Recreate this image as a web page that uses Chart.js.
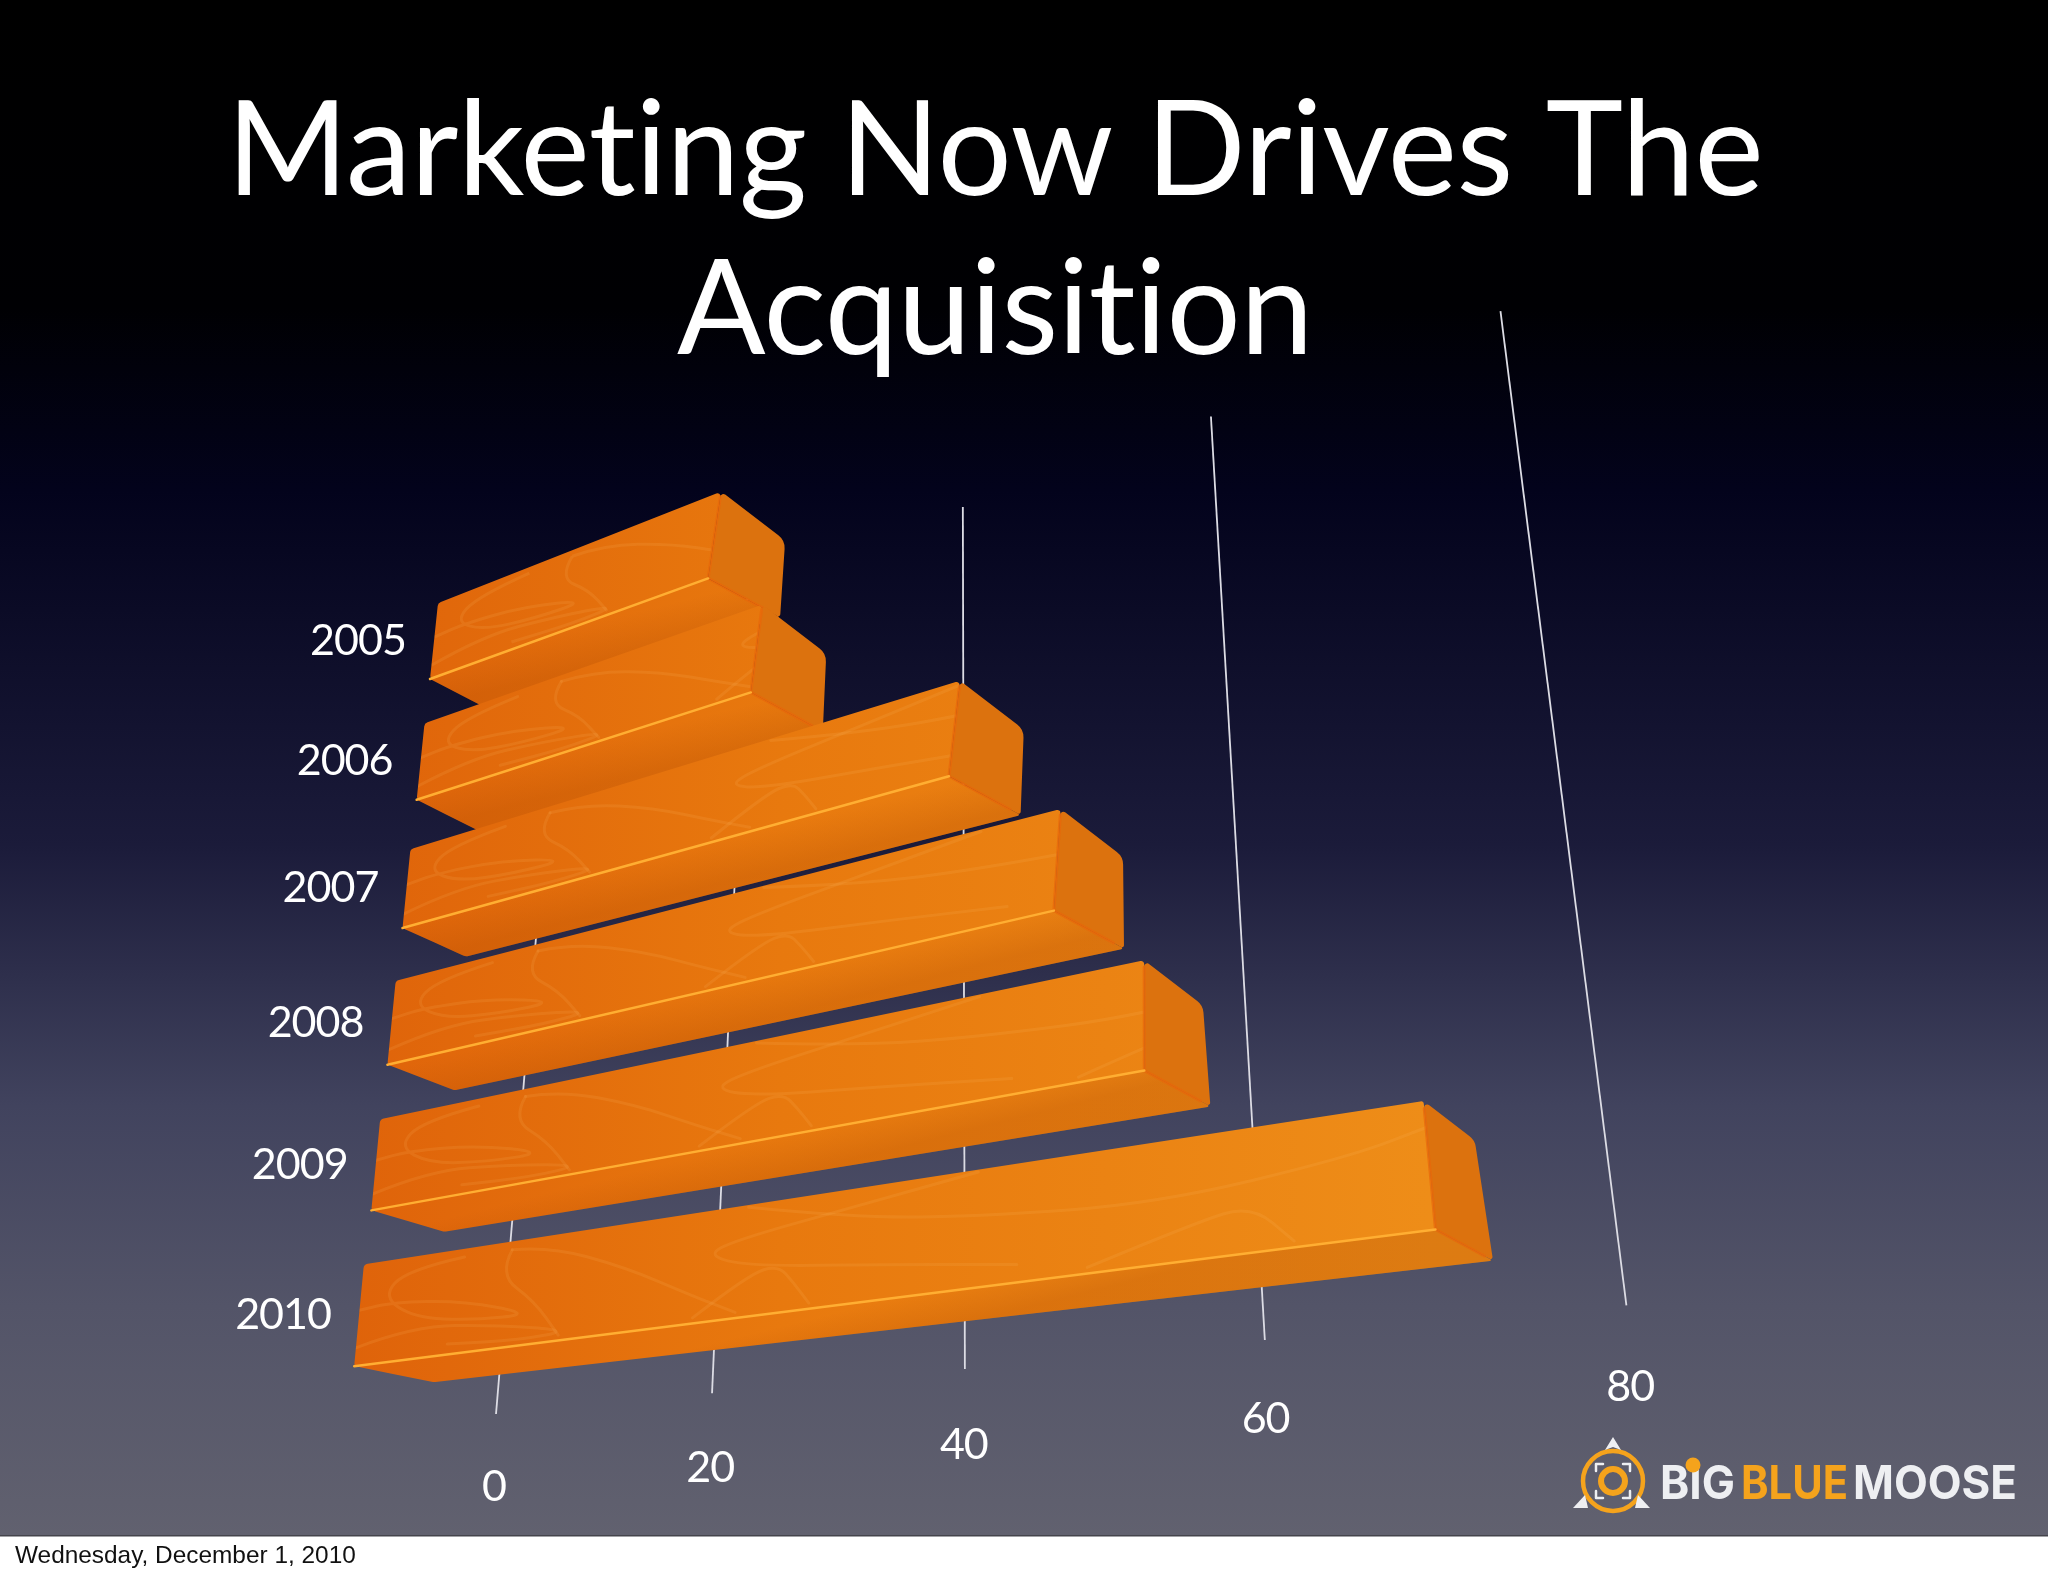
<!DOCTYPE html>
<html>
<head>
<meta charset="utf-8">
<title>Marketing Now Drives The Acquisition</title>
<script src="https://cdn.jsdelivr.net/npm/chart.js@4"></script>
<style>
	html, body { margin: 0; padding: 0; background: #fff; }
	canvas { display: block; }
</style>
</head>
<body>
<canvas id="chart" width="2048" height="1576"></canvas>
<script>
// Data
const years = ['2005', '2006', '2007', '2008', '2009', '2010'];
const acquisitions = [25.9, 29.8, 44.5, 51, 55.8, 69.8];
const axisMax = 80;
const axisStep = 20;
const titleLines = ['Marketing Now Drives The', 'Acquisition'];
const footerDate = 'Wednesday, December 1, 2010';

const slideBottom = 1536;

// Perspective planes: value along the bar, row (or wall height) across it
function plane(p) {
	return function(v, r) {
		var w = 1 + p.c * v + p.d * r;
		return [(p.x0 + p.ax * v + p.ex * r) / w, (p.y0 + p.ay * v + p.ey * r) / w];
	};
}
const topEdge = plane({x0: 438, y0: 603, ax: 8.3, ay: -6.1, ex: -22.9, ey: 104.2, c: -0.00365, d: -0.0222});
const midEdge = plane({x0: 430, y0: 679, ax: 8.33, ay: -5.85, ex: -25.6, ey: 97.2, c: -0.0034, d: -0.02945});
const wall = plane({x0: 496, y0: 1414, ax: 8.21, ay: -6.11, ex: 155, ey: -654, c: -0.00364, d: 0.1628});

// Faint scribbles on the bar faces, in value / face-height units
const scribbles = [
	[[9, .08], [4, .12], [2, .35], [5, .6], [10, .7], [15, .72], [9, .5], [3, .42], [0, .45]],
	[[0, .82], [5, .68], [12, .78], [18, .92], [14, .95], [8, .9]],
	[[13, .08], [16, .1], [22, .4], [27, .75], [30, .95]],
	[[13, .08], [12, .3], [15, .6], [17, .95]],
	[[46, .02], [38, .16], [30, .3], [28, .4], [31, .55], [40, .7], [48, .85]],
	[[27, .95], [31, .62], [33, .58], [34, .75], [35, .95]],
	[[31, .02], [38, .25], [46, .4], [56, .5], [66, .35], [70, .2]],
	[[52, .95], [58, .7], [61, .62], [63, .95]]
];

function poly(ctx, pts) {
	ctx.beginPath();
	pts.forEach(function(p, i) {
		if (i == 0) ctx.moveTo(p[0], p[1]);
		else ctx.lineTo(p[0], p[1]);
	});
	ctx.closePath();
}

// polygon with its own corner radius at each point
function roundPoly(ctx, pts, radii) {
	var n = pts.length;
	var last = pts[n - 1];
	ctx.beginPath();
	ctx.moveTo((last[0] + pts[0][0]) / 2, (last[1] + pts[0][1]) / 2);
	pts.forEach(function(p, i) {
		var next = pts[(i + 1) % n];
		ctx.arcTo(p[0], p[1], next[0], next[1], radii[i]);
	});
	ctx.closePath();
}

function faceGradient(ctx) {
	var g = ctx.createLinearGradient(350, 0, 1430, 0);
	g.addColorStop(0, '#df630a');
	g.addColorStop(0.4, '#e8790e');
	g.addColorStop(1, '#ee8d18');
	return g;
}

function drawBar(ctx, v0, v1, r) {
	var k = 1 - 0.2 * Math.pow(r / 5, 4);
	var a0 = topEdge(v0, r), a1 = topEdge(v1, r);
	var b0 = midEdge(v0, r), b1 = midEdge(v1, r);
	var d1 = [a1[0] + 64 * k, a1[1] + 49 * k];
	var c0 = [b0[0] + 60 + 0.8 * r * r, b0[1] + 31 - 0.6 * r * r];
	var c1 = [b1[0] + 72 * k, b1[1] + 39 * k];

	ctx.lineJoin = 'round';

	// lower face, darker toward its bottom edge
	roundPoly(ctx, [b0, b1, c1, c0], [1, 1, 1, 8]);
	ctx.fillStyle = faceGradient(ctx);
	ctx.fill();
	var mx = (b0[0] + b1[0]) / 2, my = (b0[1] + b1[1]) / 2;
	var shade = ctx.createLinearGradient(mx, my, mx + 10, my + 40);
	shade.addColorStop(0, 'rgba(170,70,0,0)');
	shade.addColorStop(1, 'rgba(170,70,0,0.25)');
	ctx.fillStyle = shade;
	ctx.fill();

	// end cap
	roundPoly(ctx, [a1, d1, c1, b1], [3, 16, 2, 1]);
	ctx.fillStyle = '#dc720e';
	ctx.fill();

	// big face
	roundPoly(ctx, [a0, a1, b1, b0], [5, 3, 1, 2]);
	ctx.fillStyle = faceGradient(ctx);
	ctx.fill();

	// scribbles
	ctx.save();
	poly(ctx, [a0, a1, b1, b0]);
	ctx.clip();
	ctx.strokeStyle = 'rgba(255,190,110,0.13)';
	ctx.lineWidth = 3;
	scribbles.forEach(function(line) {
		var pts = line.map(function(s) {
			var a = topEdge(s[0], r), b = midEdge(s[0], r);
			return [a[0] + (b[0] - a[0]) * s[1], a[1] + (b[1] - a[1]) * s[1]];
		});
		ctx.beginPath();
		ctx.moveTo(pts[0][0], pts[0][1]);
		for (var i = 1; i < pts.length - 1; i++) {
			ctx.quadraticCurveTo(pts[i][0], pts[i][1], (pts[i][0] + pts[i + 1][0]) / 2, (pts[i][1] + pts[i + 1][1]) / 2);
		}
		ctx.lineTo(pts[pts.length - 1][0], pts[pts.length - 1][1]);
		ctx.stroke();
	});
	ctx.restore();

	// edges
	ctx.lineCap = 'round';
	ctx.strokeStyle = 'rgba(232,102,10,0.7)';
	ctx.lineWidth = 3;
	ctx.beginPath();
	ctx.moveTo(a1[0] + (b1[0] - a1[0]) * 0.06, a1[1] + (b1[1] - a1[1]) * 0.06);
	ctx.lineTo(b1[0], b1[1]);
	ctx.lineTo(b1[0] + (c1[0] - b1[0]) * 0.85, b1[1] + (c1[1] - b1[1]) * 0.85);
	ctx.stroke();
	ctx.strokeStyle = '#ffae32';
	ctx.lineWidth = 2.5;
	ctx.beginPath();
	ctx.moveTo(b0[0], b0[1]);
	ctx.lineTo(b1[0], b1[1]);
	ctx.stroke();
}

function drawLogo(ctx) {
	var cx = 1613, cy = 1481;
	var orange = '#f5a31c', white = '#eeeff2';

	ctx.strokeStyle = orange;
	ctx.lineWidth = 4.5;
	ctx.beginPath();
	ctx.arc(cx, cy, 30, 0, Math.PI * 2);
	ctx.stroke();
	ctx.lineWidth = 6;
	ctx.beginPath();
	ctx.arc(cx, cy, 12, 0, Math.PI * 2);
	ctx.stroke();

	// corner brackets and the three tips
	ctx.strokeStyle = white;
	ctx.lineWidth = 2.5;
	[[-1, -1], [1, -1], [-1, 1], [1, 1]].forEach(function(c) {
		ctx.beginPath();
		ctx.moveTo(cx + c[0] * 17, cy + c[1] * 10);
		ctx.lineTo(cx + c[0] * 17, cy + c[1] * 17);
		ctx.lineTo(cx + c[0] * 10, cy + c[1] * 17);
		ctx.stroke();
	});
	ctx.fillStyle = white;
	poly(ctx, [[cx, 1437], [cx + 8, 1450], [cx, 1447], [cx - 8, 1450]]);
	ctx.fill();
	poly(ctx, [[1573, 1508], [1585, 1495], [1588, 1508]]);
	ctx.fill();
	poly(ctx, [[1650, 1508], [1638, 1495], [1635, 1508]]);
	ctx.fill();

	ctx.textAlign = 'left';
	ctx.textBaseline = 'alphabetic';
	ctx.font = '700 47px Inter';
	ctx.fillStyle = white;
	ctx.fillText('BIG', 1660, 1499, 75);
	ctx.fillStyle = orange;
	ctx.fillText('BLUE', 1741, 1499, 107);
	ctx.fillStyle = white;
	ctx.fillText('MOOSE', 1853, 1499, 164);
	ctx.fillStyle = orange;
	ctx.beginPath();
	ctx.arc(1693, 1465, 7.5, 0, Math.PI * 2);
	ctx.fill();
}

const perspectivePlugin = {
	id: 'perspective',
	beforeDraw: function(chart) {
		var ctx = chart.ctx;
		ctx.save();
		ctx.fillStyle = '#ffffff';
		ctx.fillRect(0, 0, chart.width, chart.height);
		var bg = ctx.createLinearGradient(0, 0, 0, slideBottom);
		bg.addColorStop(0, '#000000');
		bg.addColorStop(0.2, '#000003');
		bg.addColorStop(0.32, '#03031c');
		bg.addColorStop(0.55, '#1b1b3a');
		bg.addColorStop(0.72, '#41435e');
		bg.addColorStop(0.85, '#535468');
		bg.addColorStop(1, '#61616f');
		ctx.fillStyle = bg;
		ctx.fillRect(0, 0, chart.width, slideBottom);
		ctx.fillStyle = '#44444c';
		ctx.fillRect(0, slideBottom - 1, chart.width, 1.5);
		ctx.restore();
		// a little tighter than the default, also keeps "ti" from joining in the title
		ctx.letterSpacing = '-0.4px';
	},
	afterDatasetsDraw: function(chart) {
		var ctx = chart.ctx;
		var xs = chart.scales.x, ys = chart.scales.y;
		var area = chart.chartArea;
		var meta = chart.getDatasetMeta(0);

		// pixel positions of the library's scales, turned into plane units
		var toV = function(px) { return (px - area.left) / area.width * xs.max; };
		var rowStep = ys.getPixelForValue(1) - ys.getPixelForValue(0);
		var toR = function(py) { return (py - ys.getPixelForValue(0)) / rowStep; };

		ctx.save();

		// grid lines and value labels
		ctx.letterSpacing = '-1px';
		ctx.textAlign = 'center';
		ctx.textBaseline = 'middle';
		ctx.font = '43px Lato';
		xs.ticks.forEach(function(tick) {
			var v = toV(xs.getPixelForValue(tick.value));
			var p0 = wall(v, 0), p1 = wall(v, 1);
			ctx.strokeStyle = '#dcdce4';
			ctx.lineWidth = 1.8;
			ctx.beginPath();
			ctx.moveTo(p0[0], p0[1]);
			ctx.lineTo(p1[0], p1[1]);
			ctx.stroke();
			var p = wall(v, -0.08 + 0.0148 * v / xs.max);
			ctx.fillStyle = '#ffffff';
			ctx.fillText(tick.label, p[0] + 4 - 0.13 * v, p[1] + 1);
		});

		// bars, back row first
		meta.data.forEach(function(bar) {
			drawBar(ctx, toV(bar.base), toV(bar.x), toR(bar.y));
		});

		// row labels
		ys.ticks.forEach(function(tick, i) {
			var r = toR(ys.getPixelForValue(i));
			var a = topEdge(0, r), b = midEdge(0, r);
			ctx.fillStyle = '#ffffff';
			ctx.fillText(tick.label, (a[0] + b[0]) / 2 - 76, (a[1] + b[1]) / 2);
		});

		ctx.letterSpacing = '0px';
		drawLogo(ctx);

		// date line under the slide
		ctx.fillStyle = '#111111';
		ctx.textAlign = 'left';
		ctx.textBaseline = 'alphabetic';
		ctx.font = '24.4px "Liberation Sans"';
		ctx.fillText(footerDate, 15, 1563);
		ctx.restore();
	}
};

new Chart(document.getElementById('chart'), {
	type: 'bar',
	data: {
		labels: years,
		datasets: [{
			label: 'Acquisitions',
			data: acquisitions,
			backgroundColor: 'rgba(0,0,0,0)',
			borderWidth: 0
		}]
	},
	options: {
		indexAxis: 'y',
		responsive: false,
		animation: false,
		devicePixelRatio: 1,
		layout: { padding: { left: 100, right: 158, top: 73, bottom: 60 } },
		scales: {
			x: { display: false, min: 0, max: axisMax, ticks: { stepSize: axisStep } },
			y: { display: false }
		},
		plugins: {
			legend: { display: false },
			tooltip: { enabled: false },
			title: {
				display: true,
				fullSize: false,
				text: titleLines,
				color: '#ffffff',
				font: { family: 'Lato', size: 131, weight: 'normal', lineHeight: 1.214 },
				padding: { top: 0, bottom: 20 }
			}
		}
	},
	plugins: [perspectivePlugin]
});
</script>
</body>
</html>
